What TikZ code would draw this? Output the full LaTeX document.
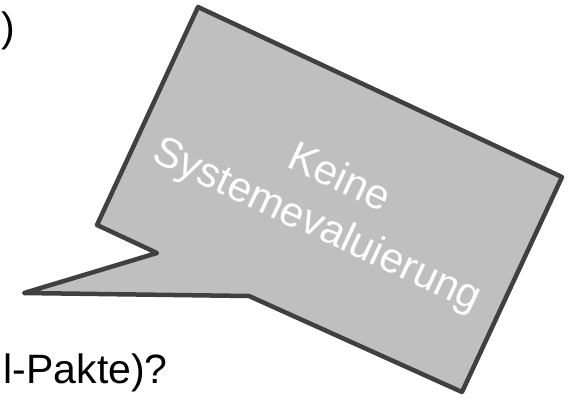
\documentclass[tikz,border=0pt]{standalone}
\usepackage{fontspec}
\setmainfont{Liberation Sans}
\definecolor{bubblefill}{HTML}{BFBFBF}
\definecolor{bubbleline}{HTML}{404040}
\begin{document}
\begin{tikzpicture}[x=1pt,y=-1pt,
  bubble/.style={draw=bubbleline,fill=bubblefill,line width=4.5pt,line join=round},
  bubbletext/.style={text=white,align=center,font=\fontsize{42}{52}\selectfont,inner sep=0pt},
  outtext/.style={text=black,font=\fontsize{41}{48}\selectfont,inner sep=0pt}]
\useasboundingbox (0,0) rectangle (572,400);
\fill[white] (0,0) rectangle (572,400);
\draw[bubble] (198,7) -- (562,177) -- (462,392) -- (249,296) -- (24,293) -- (157,253) -- (97,225) -- cycle;
\node[bubbletext,rotate=-25] (say) at (327.5,203) {Keine\\Systemevaluierung};
\node[outtext,anchor=base east] (top) at (15,41) {)};
\node[outtext,anchor=base east] (bottom) at (168,383) {l-Pakte)?};
\end{tikzpicture}
\end{document}
